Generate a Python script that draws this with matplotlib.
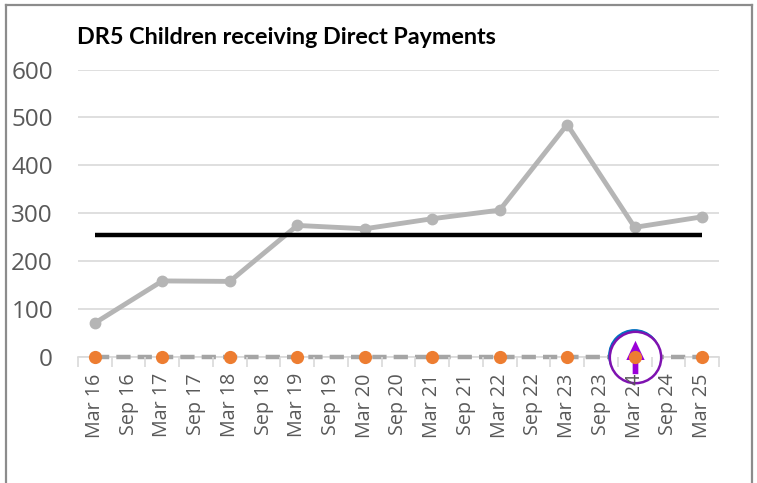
import matplotlib
matplotlib.use("Agg")
import matplotlib.pyplot as plt
from matplotlib.lines import Line2D
from matplotlib.path import Path

periods = ["Mar 16", "Sep 16", "Mar 17", "Sep 17", "Mar 18", "Sep 18", "Mar 19", "Sep 19", "Mar 20", "Sep 20",
           "Mar 21", "Sep 21", "Mar 22", "Sep 22", "Mar 23", "Sep 23", "Mar 24", "Sep 24", "Mar 25"]
march_idx = [0, 2, 4, 6, 8, 10, 12, 14, 16, 18]
children = [70, 158, 157, 274, 267, 288, 306, 485, 270, 292]
target = 255
zeros = [0] * len(march_idx)
flag_idx = [16]
flag_val = [0]
W, H = 757, 483

plt.rcParams['font.family'] = ['Open Sans', 'DejaVu Sans']
fig = plt.figure(figsize=(W / 100, H / 100), dpi=100)
ax = fig.add_axes([78 / W, 1 - 356.5 / H, 641 / W, 287 / H])

x_all = list(range(len(periods)))
ax.plot(march_idx, children, color="#b5b5b5", lw=3.5, marker="o", ms=7.5, zorder=3, clip_on=False)
ax.plot([0, 18], [target, target], color="black", lw=3.2, zorder=4, solid_capstyle="butt")
ax.plot(x_all, [0] * len(x_all), color="#a5a5a5", lw=3.2, dashes=(3.2, 1.6), zorder=3, clip_on=False)

# improvement icon on the latest point
ax.plot([i - 0.03 for i in flag_idx], [v + 4 for v in flag_val], marker="o", ms=37, mfc="#0070c0", mec="#0070c0",
        ls="none", zorder=5, clip_on=False)
ax.plot(flag_idx, flag_val, marker="o", ms=37, mfc="white", mec="#7e12b0", mew=1.8, ls="none",
        zorder=6, clip_on=False)
arrow = Path([(0, 1), (0.55, -0.15), (0.17, -0.15), (0.17, -1), (-0.17, -1), (-0.17, -0.15), (-0.55, -0.15), (0, 1)])
ax.plot(flag_idx, flag_val, marker=arrow, ms=24, mfc="#9a00d8", mec="#9a00d8", mew=0, ls="none",
        zorder=7, clip_on=False)

ax.plot(march_idx, zeros, ls="none", marker="o", ms=9.5, color="#ed7d31", mew=0, zorder=8, clip_on=False)

ax.set_xlim(-0.5, 18.5)
ax.set_ylim(0, 600)
ax.set_yticks(range(0, 601, 100))
ax.set_xticks([i - 0.5 for i in x_all] + [18.5], minor=True)
ax.set_xticks(x_all)
ax.set_xticklabels(periods, rotation=90, fontsize=14.2, color="#595959")
ax.tick_params(axis="x", which="major", length=0, pad=12)
ax.tick_params(axis="x", which="minor", length=7, color="#d9d9d9", width=1.2)
ax.tick_params(axis="y", length=0, labelsize=17.5, labelcolor="#595959", pad=18)
ax.grid(axis="y", color="#d9d9d9", lw=1.2)
ax.set_axisbelow(True)
ax.xaxis.set_zorder(9)  # the Mar 24 label sits over the icon
for name in ["top", "left", "right"]:
    ax.spines[name].set_visible(False)
ax.spines["bottom"].set_color("#d9d9d9")
ax.spines["bottom"].set_linewidth(1.2)

fig.text(77 / W, 1 - 38 / H, "DR5 Children receiving Direct Payments", family=["Lato", "DejaVu Sans"],
         fontsize=16.85, fontweight="bold", color="black", va="center", ha="left")

# outer frame of the pasted chart
for xs, ys in [((6, 6), (5, 483)), ((6, 752), (5, 5)), ((752, 752), (5, 483))]:
    fig.add_artist(Line2D([x / W for x in xs], [1 - y / H for y in ys], color="#8c8c8c", lw=1.6))

fig.savefig("out.png", dpi=100)
